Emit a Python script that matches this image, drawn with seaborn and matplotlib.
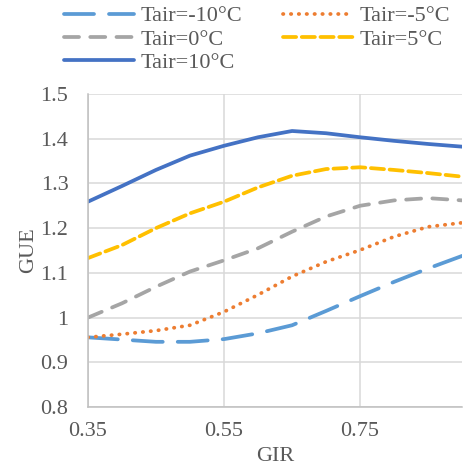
import pandas as pd
import numpy as np
import matplotlib
matplotlib.use('Agg')
import matplotlib.pyplot as plt
import seaborn as sns

# GIR values
gir = [0.35, 0.40, 0.45, 0.50, 0.55, 0.60, 0.65, 0.70, 0.75, 0.80, 0.85, 0.90]

gue_m10 = [0.956, 0.951, 0.946, 0.946, 0.952, 0.965, 0.983, 1.015, 1.048, 1.080, 1.110, 1.138]
gue_m5 = [0.956, 0.963, 0.971, 0.983, 1.013, 1.051, 1.092, 1.125, 1.151, 1.181, 1.203, 1.212]
gue_0 = [1.000, 1.032, 1.069, 1.103, 1.128, 1.155, 1.192, 1.226, 1.250, 1.262, 1.267, 1.262]
gue_5 = [1.133, 1.162, 1.200, 1.233, 1.259, 1.291, 1.317, 1.332, 1.336, 1.330, 1.323, 1.315]
gue_10 = [1.259, 1.294, 1.330, 1.362, 1.384, 1.403, 1.417, 1.412, 1.403, 1.395, 1.388, 1.382]

labels = ['Tair=-10°C', 'Tair=-5°C', 'Tair=0°C', 'Tair=5°C', 'Tair=10°C']
series = [gue_m10, gue_m5, gue_0, gue_5, gue_10]

df = pd.concat([pd.DataFrame({'GIR': gir, 'GUE': s, 'Tair': lab})
                for lab, s in zip(labels, series)], ignore_index=True)

colors = {'Tair=-10°C': '#5B9BD5', 'Tair=-5°C': '#ED7D31', 'Tair=0°C': '#A5A5A5',
          'Tair=5°C': '#FFC000', 'Tair=10°C': '#4472C4'}
dashes = {'Tair=-10°C': (8, 4), 'Tair=-5°C': (0.1, 2), 'Tair=0°C': (4, 3),
          'Tair=5°C': (3.5, 1.5), 'Tair=10°C': ''}

sns.set_style('white')
plt.rcParams['font.family'] = ['Liberation Serif', 'DejaVu Serif']
txt = '#595959'
fs = 16

fig = plt.figure(figsize=(4.65, 4.74), dpi=100)
ax = fig.add_axes([0.189, 0.141, 0.805, 0.661])

sns.lineplot(data=df, x='GIR', y='GUE', hue='Tair', style='Tair', palette=colors,
             dashes=dashes, hue_order=labels, style_order=labels, linewidth=2.7,
             legend=False, ax=ax, dash_capstyle='round', solid_capstyle='round')

ax.set_xlim(0.35, 0.90)
ax.set_ylim(0.8, 1.5)
ax.set_xticks([0.35, 0.55, 0.75])
ax.set_xticklabels(['0.35', '0.55', '0.75'])
ax.set_yticks([0.8, 0.9, 1.0, 1.1, 1.2, 1.3, 1.4, 1.5])
ax.set_yticklabels(['0.8', '0.9', '1', '1.1', '1.2', '1.3', '1.4', '1.5'])
ax.grid(True, color='#D9D9D9', linewidth=1.1)
ax.set_axisbelow(True)
for side in ['top', 'right']:
    ax.spines[side].set_visible(False)
for side in ['left', 'bottom']:
    ax.spines[side].set_color('#BFBFBF')
    ax.spines[side].set_linewidth(1.1)
ax.tick_params(axis='y', length=0, labelsize=fs, labelcolor=txt, pad=14)
ax.tick_params(axis='x', length=0, labelsize=fs, labelcolor=txt, pad=11)
ax.set_xlabel('GIR', fontsize=fs, color=txt, labelpad=4)
ax.set_ylabel('GUE', fontsize=fs, color=txt, labelpad=2)

# matplotlib fills legend columns first, so reorder to read row by row
lines = ax.get_lines()[:5]
order = [0, 2, 4, 1, 3]
fig.legend([lines[i] for i in order], [labels[i] for i in order],
           loc='upper left', bbox_to_anchor=(0.095, 1.03), ncol=2,
           frameon=False, fontsize=fs, handlelength=3.15, handletextpad=0.3,
           columnspacing=1.8, labelspacing=0.12, labelcolor=txt)

fig.savefig('out.png', dpi=100)
